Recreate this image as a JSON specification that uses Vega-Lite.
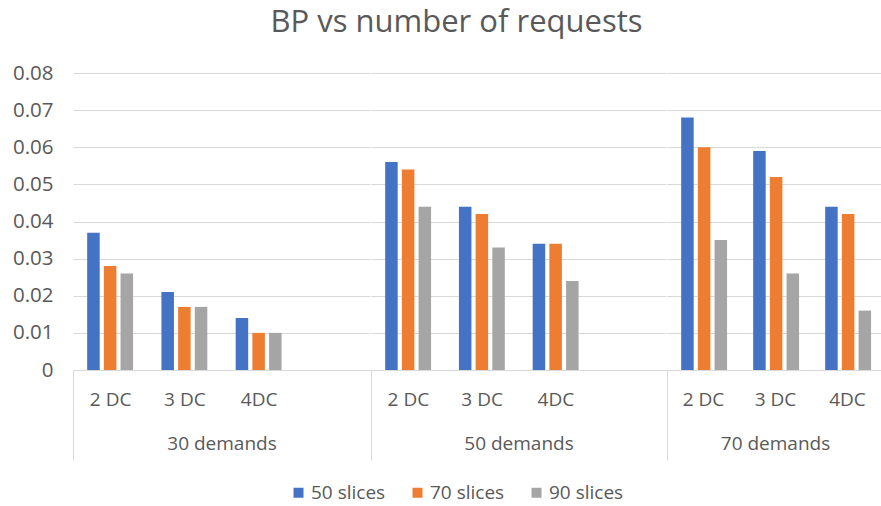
{
  "$schema": "https://vega.github.io/schema/vega-lite/v6.json",
  "padding": {"left": 10, "top": 7, "right": 0, "bottom": 14},
  "background": "white",
  "title": {"text": "BP vs number of requests", "font": "Open Sans", "fontSize": 31, "fontWeight": "normal", "color": "#595959", "anchor": "middle", "offset": 24, "dx": 10},
  "datasets": {
    "bp": [
      {"demand": "30 demands", "dc": "2 DC", "series": "50 slices", "value": 0.037},
      {"demand": "30 demands", "dc": "2 DC", "series": "70 slices", "value": 0.028},
      {"demand": "30 demands", "dc": "2 DC", "series": "90 slices", "value": 0.026},
      {"demand": "30 demands", "dc": "3 DC", "series": "50 slices", "value": 0.021},
      {"demand": "30 demands", "dc": "3 DC", "series": "70 slices", "value": 0.017},
      {"demand": "30 demands", "dc": "3 DC", "series": "90 slices", "value": 0.017},
      {"demand": "30 demands", "dc": "4DC", "series": "50 slices", "value": 0.014},
      {"demand": "30 demands", "dc": "4DC", "series": "70 slices", "value": 0.010},
      {"demand": "30 demands", "dc": "4DC", "series": "90 slices", "value": 0.010},
      {"demand": "50 demands", "dc": "2 DC", "series": "50 slices", "value": 0.056},
      {"demand": "50 demands", "dc": "2 DC", "series": "70 slices", "value": 0.054},
      {"demand": "50 demands", "dc": "2 DC", "series": "90 slices", "value": 0.044},
      {"demand": "50 demands", "dc": "3 DC", "series": "50 slices", "value": 0.044},
      {"demand": "50 demands", "dc": "3 DC", "series": "70 slices", "value": 0.042},
      {"demand": "50 demands", "dc": "3 DC", "series": "90 slices", "value": 0.033},
      {"demand": "50 demands", "dc": "4DC", "series": "50 slices", "value": 0.034},
      {"demand": "50 demands", "dc": "4DC", "series": "70 slices", "value": 0.034},
      {"demand": "50 demands", "dc": "4DC", "series": "90 slices", "value": 0.024},
      {"demand": "70 demands", "dc": "2 DC", "series": "50 slices", "value": 0.068},
      {"demand": "70 demands", "dc": "2 DC", "series": "70 slices", "value": 0.060},
      {"demand": "70 demands", "dc": "2 DC", "series": "90 slices", "value": 0.035},
      {"demand": "70 demands", "dc": "3 DC", "series": "50 slices", "value": 0.059},
      {"demand": "70 demands", "dc": "3 DC", "series": "70 slices", "value": 0.052},
      {"demand": "70 demands", "dc": "3 DC", "series": "90 slices", "value": 0.026},
      {"demand": "70 demands", "dc": "4DC", "series": "50 slices", "value": 0.044},
      {"demand": "70 demands", "dc": "4DC", "series": "70 slices", "value": 0.042},
      {"demand": "70 demands", "dc": "4DC", "series": "90 slices", "value": 0.016}
    ]
  },
  "data": {"name": "bp"},
  "hconcat": [
    {
      "width": 297, "height": 297,
      "transform": [{"filter": "datum.demand == '30 demands'"}],
      "mark": {"type": "bar"},
      "encoding": {
        "x": {"field": "dc", "type": "nominal",
          "scale": {"domain": ["2 DC", "3 DC", "4DC", "  "], "paddingInner": 0, "paddingOuter": 0},
          "axis": {"title": "30 demands", "labelAngle": 0, "ticks": true, "tickSize": 90, "tickColor": "#D9D9D9", "tickOffset": -37.125, "labelOffset": 37.125,
            "tickOpacity": {"condition": {"test": "datum.value === '2 DC'", "value": 1}, "value": 0},
            "labelPadding": -70, "labelFontSize": 19, "domainColor": "#D9D9D9", "titleY": 73, "titleBaseline": "middle", "titleFontSize": 19, "titleFontWeight": "normal"}},
        "xOffset": {"field": "series", "type": "nominal", "scale": {"paddingInner": 0.25, "paddingOuter": 0.85}},
        "y": {"field": "value", "type": "quantitative",
          "scale": {"domain": [0, 0.08], "nice": false},
          "axis": {"title": null, "values": [0, 0.01, 0.02, 0.03, 0.04, 0.05, 0.06, 0.07, 0.08], "format": "~g", "domain": false, "ticks": false, "grid": true, "gridColor": "#D9D9D9", "labelPadding": 20, "labelFontSize": 20.5, "minExtent": 63, "maxExtent": 63}},
        "color": {"field": "series", "type": "nominal",
          "scale": {"domain": ["50 slices", "70 slices", "90 slices"], "range": ["#4472C4", "#ED7D31", "#A5A5A5"]},
          "legend": {"orient": "none", "legendX": 216, "legendY": 410, "direction": "horizontal", "title": null, "symbolType": "square", "symbolSize": 100, "symbolStrokeWidth": 0, "labelFont": "Open Sans", "labelFontSize": 19, "labelColor": "#595959", "columnPadding": 22, "labelOffset": 3}}
      }
    },
    {
      "width": 295, "height": 297,
      "transform": [{"filter": "datum.demand == '50 demands'"}],
      "mark": {"type": "bar"},
      "encoding": {
        "x": {"field": "dc", "type": "nominal",
          "scale": {"domain": ["2 DC", "3 DC", "4DC", "  "], "paddingInner": 0, "paddingOuter": 0},
          "axis": {"title": "50 demands", "labelAngle": 0, "ticks": true, "tickSize": 90, "tickColor": "#D9D9D9", "tickOffset": -36.875, "labelOffset": 36.875,
            "tickOpacity": {"condition": {"test": "datum.value === '2 DC'", "value": 1}, "value": 0},
            "labelPadding": -70, "labelFontSize": 19, "domainColor": "#D9D9D9", "titleY": 73, "titleBaseline": "middle", "titleFontSize": 19, "titleFontWeight": "normal"}},
        "xOffset": {"field": "series", "type": "nominal", "scale": {"paddingInner": 0.25, "paddingOuter": 0.85}},
        "y": {"field": "value", "type": "quantitative",
          "scale": {"domain": [0, 0.08], "nice": false},
          "axis": {"title": null, "values": [0, 0.01, 0.02, 0.03, 0.04, 0.05, 0.06, 0.07, 0.08], "labels": false, "domain": false, "ticks": false, "grid": true, "gridColor": "#D9D9D9", "minExtent": 0, "maxExtent": 0}},
        "color": {"field": "series", "type": "nominal",
          "scale": {"domain": ["50 slices", "70 slices", "90 slices"], "range": ["#4472C4", "#ED7D31", "#A5A5A5"]}}
      }
    },
    {
      "width": 216, "height": 297,
      "transform": [{"filter": "datum.demand == '70 demands'"}],
      "mark": {"type": "bar"},
      "encoding": {
        "x": {"field": "dc", "type": "nominal",
          "scale": {"domain": ["2 DC", "3 DC", "4DC"], "paddingInner": 0, "paddingOuter": 0},
          "axis": {"title": "70 demands", "labelAngle": 0, "ticks": true, "tickSize": 90, "tickColor": "#D9D9D9", "tickOffset": -36, "labelOffset": 36,
            "tickOpacity": {"condition": {"test": "datum.value === '2 DC'", "value": 1}, "value": 0},
            "labelPadding": -70, "labelFontSize": 19, "domainColor": "#D9D9D9", "titleY": 73, "titleBaseline": "middle", "titleFontSize": 19, "titleFontWeight": "normal"}},
        "xOffset": {"field": "series", "type": "nominal", "scale": {"paddingInner": 0.25, "paddingOuter": 0.85}},
        "y": {"field": "value", "type": "quantitative",
          "scale": {"domain": [0, 0.08], "nice": false},
          "axis": {"title": null, "values": [0, 0.01, 0.02, 0.03, 0.04, 0.05, 0.06, 0.07, 0.08], "labels": false, "domain": false, "ticks": false, "grid": true, "gridColor": "#D9D9D9", "minExtent": 0, "maxExtent": 0}},
        "color": {"field": "series", "type": "nominal",
          "scale": {"domain": ["50 slices", "70 slices", "90 slices"], "range": ["#4472C4", "#ED7D31", "#A5A5A5"]}}
      }
    }
  ],
  "spacing": 0,
  "resolve": {"scale": {"x": "independent", "y": "independent", "color": "shared"}, "axis": {"x": "independent", "y": "independent"}, "legend": {"color": "shared"}},
  "config": {
    "view": {"stroke": null},
    "axis": {"labelFont": "Open Sans", "labelColor": "#595959", "titleFont": "Open Sans", "titleColor": "#595959"}
  }
}
